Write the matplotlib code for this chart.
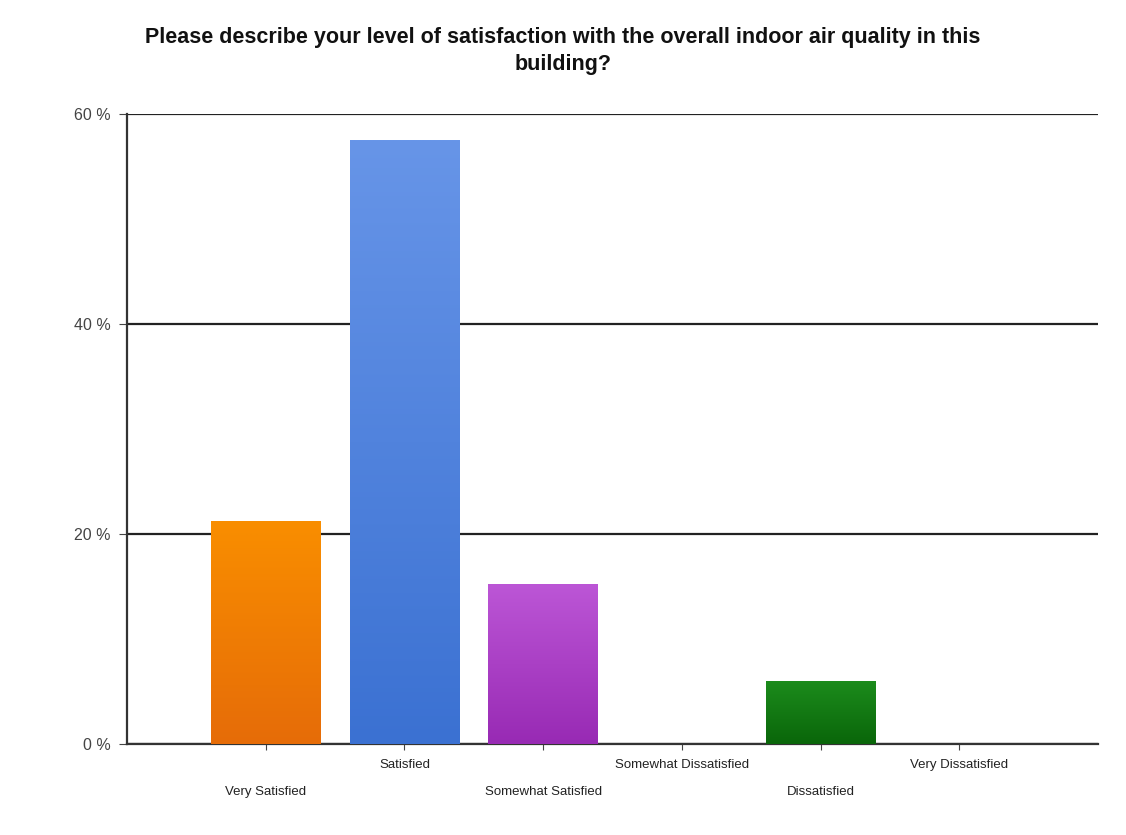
import numpy as np
import matplotlib
matplotlib.use('Agg')
import matplotlib.pyplot as plt
from matplotlib.colors import LinearSegmentedColormap

plt.rcParams['font.family'] = ['Liberation Sans', 'DejaVu Sans']

# データ
categories = ['Very Satisfied', 'Satisfied', 'Somewhat Satisfied',
              'Somewhat Dissatisfied', 'Dissatisfied', 'Very Dissatisfied']
values = [21.2, 57.5, 15.2, 0.0, 6.0, 0.0]
top_colors = ['#f98e00', '#6795e8', '#bc56d6', '#e05080', '#1c8c1c', '#e07000']
bottom_colors = ['#e66c08', '#3b71d2', '#982ab4', '#c03060', '#0a660a', '#c05000']
yticks = [0, 20, 40, 60]
title = 'Please describe your level of satisfaction with the overall indoor air quality in this\nbuilding?'

fig = plt.figure(figsize=(11.26, 8.35), dpi=100, facecolor='w')
ax = fig.add_axes([0.1128, 0.109, 0.8623, 0.7545])

x = np.arange(1, len(categories) + 1)
bars = ax.bar(x, values, width=0.79, color='none', edgecolor='none', zorder=3)

# グラデーション
grad = np.linspace(1, 0, 256).reshape(-1, 1)
for b, c1, c2 in zip(bars, top_colors, bottom_colors):
    if b.get_height() <= 0:
        continue
    cmap = LinearSegmentedColormap.from_list('g', [c2, c1])
    x0, w, h = b.get_x(), b.get_width(), b.get_height()
    im = ax.imshow(grad, cmap=cmap, aspect='auto', extent=[x0, x0 + w, 0, h],
                   origin='upper', zorder=3, vmin=0, vmax=1)
    im.set_clip_path(b)

ax.set_xlim(0, len(categories) + 1)
ax.set_ylim(0, 60)
ax.set_yticks(yticks)
ax.set_yticklabels(['%d %%' % v for v in yticks], fontsize=11.5, color='#444444')
ax.yaxis.grid(True, color='#222222', linewidth=1.6, zorder=1)
ax.set_axisbelow(True)

ax.set_xticks(x)
ax.set_xticklabels(categories, fontsize=9.5, color='#222222')
for i, t in enumerate(ax.xaxis.get_major_ticks()):
    t.set_pad(26 if i % 2 == 0 else 7)
ax.tick_params(axis='x', length=4, color='#444444', direction='out')
ax.tick_params(axis='y', length=6, color='#444444', pad=6)

for s in ['top', 'right']:
    ax.spines[s].set_visible(False)
ax.spines['left'].set_color('#333333')
ax.spines['bottom'].set_color('#333333')
ax.spines['left'].set_linewidth(1.6)
ax.spines['bottom'].set_linewidth(1.6)

fig.text(0.5, 0.939, title, ha='center', va='center', fontsize=15.5,
         fontweight='bold', color='#111111', linespacing=1.4)

fig.savefig('out.png', dpi=100, facecolor='w')
